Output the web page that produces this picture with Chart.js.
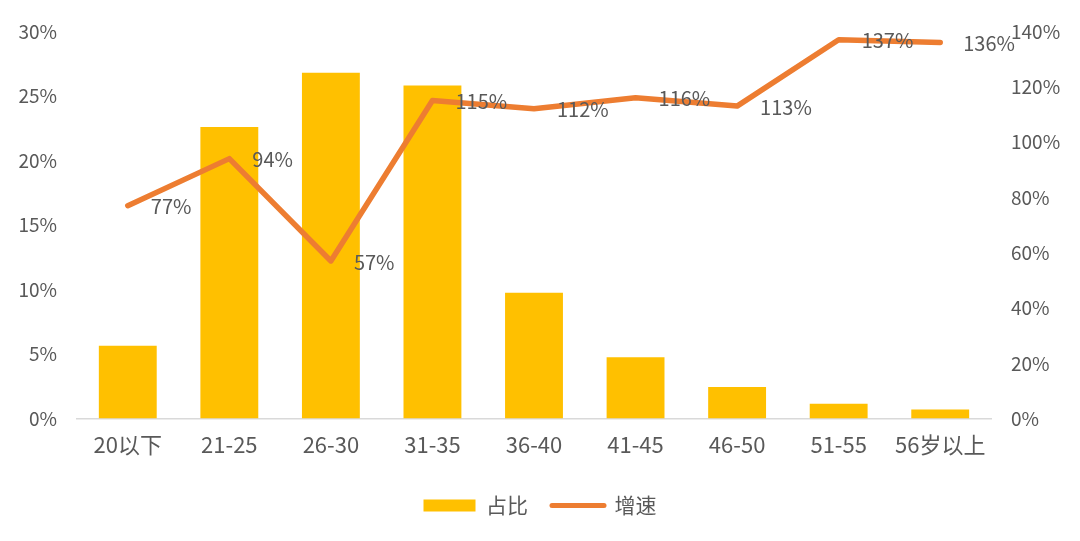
<!DOCTYPE html>
<html><head><meta charset="utf-8">
<script src="https://cdn.jsdelivr.net/npm/chart.js@4"></script>
<style>html,body{margin:0;padding:0;background:#fff;} canvas{display:block;}</style>
</head><body>
<canvas id="c" width="1080" height="541"></canvas>
<script>
const categories = ['20以下','21-25','26-30','31-35','36-40','41-45','46-50','51-55','56岁以上'];
const shareValues = [5.65, 22.6, 26.8, 25.8, 9.75, 4.75, 2.45, 1.15, 0.7];
const growthValues = [77, 94, 57, 115, 112, 116, 113, 137, 136];
const seriesNames = ['占比', '增速'];
const leftAxis = {min: 0, max: 30, step: 5};
const rightAxis = {min: 0, max: 140, step: 20};

const FONT = '"Noto Sans CJK SC", "Noto Sans", sans-serif';
const TEXT = '#595959';
const BAR = '#FFC000';
const LINE = '#ED7D31';

const lineLabels = {
  id: 'lineLabels',
  afterDatasetsDraw(chart) {
    const meta = chart.getDatasetMeta(1);
    const ctx = chart.ctx;
    ctx.save();
    ctx.font = '20px ' + FONT;
    ctx.fillStyle = TEXT;
    ctx.textAlign = 'left';
    ctx.textBaseline = 'middle';
    meta.data.forEach((pt, i) => {
      ctx.fillText(growthValues[i] + '%', pt.x + 23, pt.y + 1);
    });
    ctx.restore();
  }
};

new Chart(document.getElementById('c'), {
  type: 'bar',
  data: {
    labels: categories,
    datasets: [
      {
        label: seriesNames[0],
        data: shareValues,
        backgroundColor: BAR,
        borderWidth: 0,
        yAxisID: 'y',
        order: 1,
        barPercentage: 0.57,
        categoryPercentage: 1.0
      },
      {
        type: 'line',
        label: seriesNames[1],
        data: growthValues,
        borderColor: LINE,
        backgroundColor: LINE,
        borderWidth: 5.5,
        borderCapStyle: 'round',
        borderJoinStyle: 'round',
        pointRadius: 0,
        tension: 0,
        yAxisID: 'y1',
        order: 0
      }
    ]
  },
  options: {
    responsive: false,
    animation: false,
    layout: {padding: {left: 0, right: 0, top: 31, bottom: 15}},
    plugins: {
      tooltip: {enabled: false},
      legend: {
        position: 'bottom',
        labels: {
          usePointStyle: true,
          pointStyleWidth: 52,
          boxHeight: 12,
          padding: 24,
          color: TEXT,
          font: {family: FONT, size: 21},
          generateLabels: (chart) => chart.data.datasets.map((ds, i) => ({
            text: ds.label,
            fillStyle: i === 0 ? BAR : LINE,
            strokeStyle: i === 0 ? BAR : LINE,
            lineWidth: i === 0 ? 0 : 5,
            lineCap: 'round',
            pointStyle: i === 0 ? 'rect' : 'line',
            fontColor: TEXT,
            hidden: false,
            datasetIndex: i
          }))
        }
      }
    },
    scales: {
      x: {
        grid: {display: false, drawTicks: false},
        border: {display: true, color: '#D9D9D9', width: 1.5},
        ticks: {color: TEXT, font: {family: FONT, size: 22}, padding: 13, maxRotation: 0, autoSkip: false}
      },
      y: {
        position: 'left',
        min: leftAxis.min, max: leftAxis.max,
        grid: {display: false, drawTicks: false},
        border: {display: false},
        ticks: {stepSize: leftAxis.step, color: TEXT, font: {family: FONT, size: 19}, padding: 20,
          callback: v => v + '%'},
        afterFit: s => { s.width = 77; }
      },
      y1: {
        position: 'right',
        min: rightAxis.min, max: rightAxis.max,
        grid: {display: false, drawTicks: false},
        border: {display: false},
        ticks: {stepSize: rightAxis.step, color: TEXT, font: {family: FONT, size: 19}, padding: 20,
          callback: v => v + '%'},
        afterFit: s => { s.width = 89; }
      }
    }
  },
  plugins: [lineLabels]
});
</script>
</body></html>
